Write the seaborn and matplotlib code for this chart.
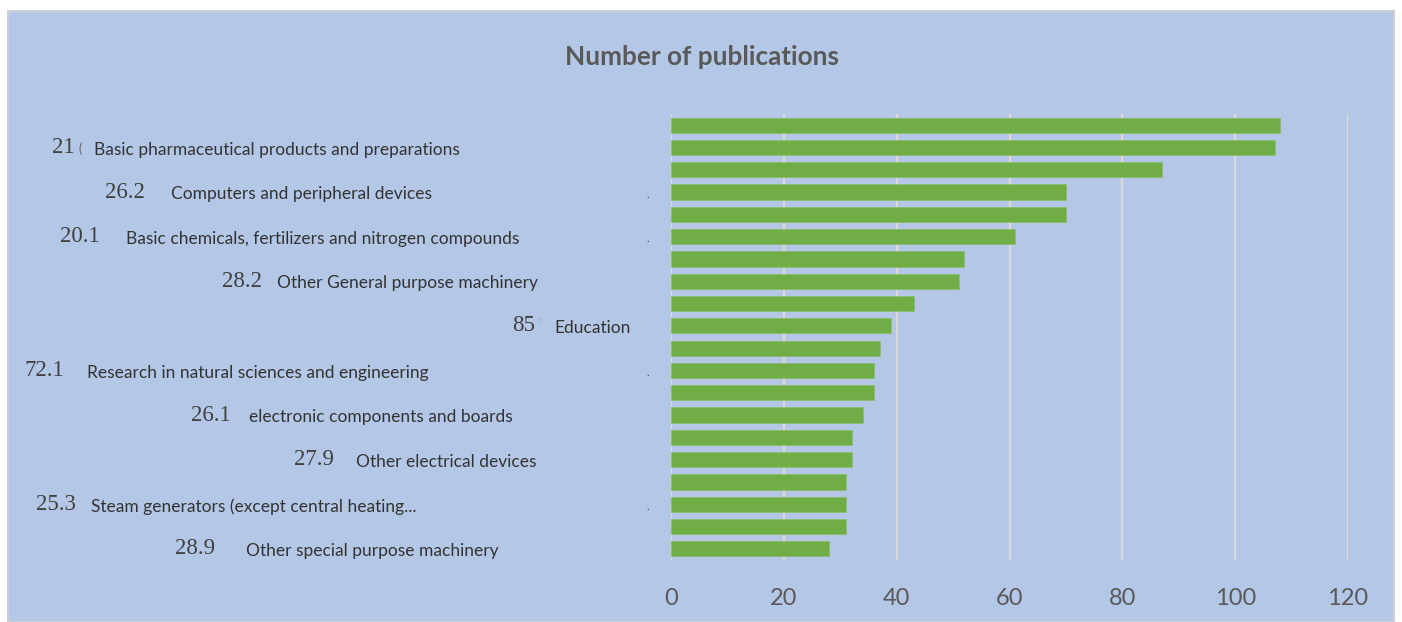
import pandas as pd
import seaborn as sns
import matplotlib.pyplot as plt
import matplotlib.transforms as mtransforms
from matplotlib.patches import Rectangle

# --- DATA ---
publications = [108, 107, 87, 70, 70, 61, 52, 51, 43, 39,
                37, 36, 36, 34, 32, 32, 31, 31, 31, 28]
# only every second bar carries a label in the source chart
sector_codes = ["21", "26.2", "20.1", "28.2", "85", "72.1", "26.1", "27.9", "25.3", "28.9"]
sector_names = [
    "Basic pharmaceutical products and preparations",
    "Computers and peripheral devices",
    "Basic chemicals, fertilizers and nitrogen compounds",
    "Other General purpose machinery",
    "Education",
    "Research in natural sciences and engineering",
    "electronic components and boards",
    "Other electrical devices",
    "Steam generators (except central heating...",
    "Other special purpose machinery",
]
x_ticks = [0, 20, 40, 60, 80, 100, 120]

df = pd.DataFrame({"rank": [str(i + 1) for i in range(len(publications))],
                   "count": publications})

BG = "#B4C7E7"
GREEN = "#70AD47"
GREY = "#595959"
GRID = "#D9D9D9"
W, H = 1402, 622

sns.set_theme(style="white")
plt.rcParams['font.family'] = ['Lato', 'DejaVu Sans']

fig = plt.figure(figsize=(W / 100, H / 100), dpi=100, facecolor="white")
fig.patches.append(Rectangle((8 / W, 0), (1394 - 8) / W, 1 - 11 / H,
                             transform=fig.transFigure, facecolor=BG,
                             edgecolor="#D0D0D0", linewidth=1.5, zorder=-10))

ax = fig.add_axes([671 / W, 1 - 560 / H, (1348 - 671) / W, (560 - 114) / H])
ax.set_facecolor("none")

sns.barplot(data=df, x="count", y="rank", orient="h", color=GREEN,
            width=0.68, saturation=1, edgecolor="#8CC06A", linewidth=0.6, ax=ax, zorder=3)

ax.set_xlim(0, 120)
ax.set_xticks(x_ticks)
ax.set_xticklabels([str(t) for t in x_ticks], fontsize=17, color=GREY)
ax.set_yticks([])
ax.set_xlabel("")
ax.set_ylabel("")
ax.tick_params(axis="x", length=0, pad=20)
for s in ax.spines.values():
    s.set_visible(False)
for t in x_ticks:
    ax.axvline(t, color=GRID, linewidth=1.6, zorder=1)

# title
fig.text(702 / W, 1 - 57 / H, "Number of publications", ha="center", va="center",
         fontsize=18.8, fontweight="bold", color=GREY)

# scattered left-hand labels (as in the source picture)
code_x = [52, 105, 60, 222, 512, 24, 191, 294, 36, 175]
name_x = [94, 171, 126, 277, 554, 87, 249, 356, 91, 246]
trans = mtransforms.blended_transform_factory(fig.transFigure, ax.transData)
for k, (code, name) in enumerate(zip(sector_codes, sector_names)):
    yi = 2 * k + 1
    ax.text(code_x[k] / W, yi, code, transform=trans, ha="left", va="center",
            fontsize=16.5, family="Liberation Serif", color="#404040")
    ax.text(name_x[k] / W, yi + 0.1, name, transform=trans, ha="left", va="center",
            fontsize=12.5, color="#333333")

# small stray marks left of the axis and beside two codes
for yi in [3, 5, 11, 17]:
    ax.text(648 / W, yi + 0.1, ".", transform=trans, ha="center", va="center",
            fontsize=8, color="#404040")
ax.text(80 / W, 1.05, "(", transform=trans, ha="center", va="center",
        fontsize=9, color="#606060")
ax.text(540 / W, 8.9, "'", transform=trans, ha="center", va="center",
        fontsize=7, color="#808080")

fig.savefig("out.png", dpi=100, facecolor="white")
